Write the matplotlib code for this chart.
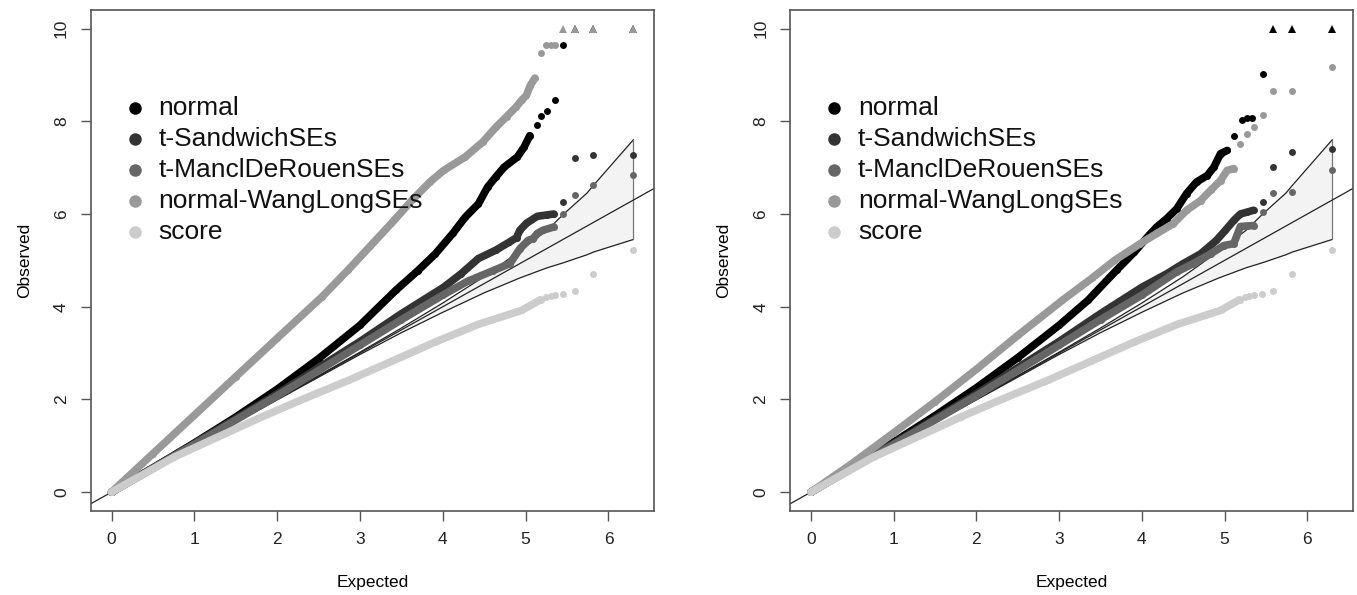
import numpy as np
import matplotlib
matplotlib.use('Agg')
import matplotlib.pyplot as plt

plt.rcParams['font.family'] = ['Liberation Sans', 'DejaVu Sans']

labels = ['normal', 't-SandwichSEs', 't-ManclDeRouenSEs', 'normal-WangLongSEs', 'score']
greys = ['#000000', '#333333', '#666666', '#999999', '#cccccc']
ymax = 10  # anything above this is drawn as a triangle on the top

# expected / observed -log10(p); np.inf = off the top of the scale
# n_dense = how many leading points are packed tight enough to draw as a band
left_normal_x = [0, 0.5, 1.0, 1.5, 2.0, 2.5, 3.0, 3.43, 3.70, 3.91, 4.12, 4.27, 4.43, 4.54, 4.64, 4.74, 4.90, 4.98, 5.05,
                 5.14, 5.19, 5.26, 5.35, 5.45, 5.59, 5.81, 6.30]
left_normal_y = [0, 0.52, 1.06, 1.62, 2.22, 2.88, 3.60, 4.35, 4.78, 5.14, 5.58, 5.93, 6.22, 6.58, 6.80, 7.01, 7.23, 7.44, 7.69,
                 7.91, 8.12, 8.23, 8.45, 9.65, np.inf, np.inf, np.inf]
left_sand_x = [0, 1.0, 2.0, 3.0, 3.5, 4.01, 4.22, 4.43, 4.64, 4.80, 4.89, 4.93, 5.01, 5.14, 5.26, 5.34,
               5.45, 5.59, 5.81, 6.30]
left_sand_y = [0, 1.05, 2.12, 3.25, 3.85, 4.42, 4.71, 5.04, 5.22, 5.39, 5.49, 5.65, 5.80, 5.95, 5.98, 6.00,
               6.26, 7.20, 7.28, 7.28]
left_mancl_x = [0, 1.0, 2.0, 3.0, 3.5, 4.0, 4.3, 4.61, 4.81, 4.93, 5.03, 5.09, 5.14, 5.21, 5.34,
                5.45, 5.59, 5.81, 6.30]
left_mancl_y = [0, 1.03, 2.08, 3.17, 3.72, 4.25, 4.55, 4.78, 4.93, 5.25, 5.43, 5.47, 5.58, 5.65, 5.72,
                6.00, 6.42, 6.63, 6.85]
left_wang_x = [0, 0.5, 1.0, 1.5, 2.0, 2.54, 2.86, 3.12, 3.38, 3.64, 3.85, 4.01, 4.27, 4.48, 4.64, 4.77, 4.88, 4.95, 5.01,
               5.05, 5.11, 5.18, 5.25, 5.30, 5.36, 5.45, 5.59, 5.81, 6.30]
left_wang_y = [0, 0.83, 1.66, 2.49, 3.32, 4.21, 4.80, 5.30, 5.80, 6.32, 6.70, 6.94, 7.23, 7.55, 7.87, 8.10, 8.30, 8.45, 8.56,
               8.75, 8.93, 9.47, 9.65, 9.65, 9.65, np.inf, np.inf, np.inf, np.inf]
left_score_x = [0, 0.76, 1.81, 2.33, 2.86, 3.38, 3.91, 4.43, 4.95, 5.18,
                5.25, 5.30, 5.36, 5.45, 5.59, 5.81, 6.30]
left_score_y = [0, 0.76, 1.62, 2.02, 2.41, 2.82, 3.24, 3.62, 3.92, 4.15,
                4.21, 4.23, 4.25, 4.27, 4.34, 4.71, 5.22]
left_n_dense = [19, 16, 15, 21, 10]

right_normal_x = [0, 0.5, 1.0, 1.5, 2.0, 2.5, 3.0, 3.35, 3.70, 3.91, 4.09, 4.18, 4.30, 4.42, 4.54, 4.66, 4.79, 4.87, 4.95,
                  5.03, 5.11, 5.21, 5.27, 5.33, 5.46, 5.58, 5.82, 6.30]
right_normal_y = [0, 0.53, 1.08, 1.65, 2.25, 2.90, 3.60, 4.14, 4.80, 5.18, 5.55, 5.72, 5.90, 6.11, 6.44, 6.69, 6.83, 7.01, 7.30,
                  7.37, 7.69, 8.02, 8.08, 8.08, 9.02, np.inf, np.inf, np.inf]
right_sand_x = [0, 1.0, 2.0, 3.0, 3.5, 4.0, 4.30, 4.50, 4.71, 4.90, 5.01, 5.11, 5.19, 5.27, 5.35,
                5.46, 5.59, 5.82, 6.30]
right_sand_y = [0, 1.05, 2.12, 3.25, 3.85, 4.42, 4.71, 4.93, 5.14, 5.43, 5.65, 5.86, 6.00, 6.04, 6.08,
                6.26, 7.01, 7.33, 7.41]
right_mancl_x = [0, 1.0, 2.0, 3.0, 3.5, 4.0, 4.42, 4.62, 4.83, 4.99, 5.11, 5.19, 5.27, 5.35,
                 5.46, 5.59, 5.82, 6.30]
right_mancl_y = [0, 1.03, 2.08, 3.17, 3.72, 4.25, 4.75, 4.93, 5.14, 5.32, 5.36, 5.73, 5.74, 5.75,
                 6.04, 6.46, 6.47, 6.95]
right_wang_x = [0, 0.5, 1.0, 1.5, 2.0, 2.5, 3.04, 3.40, 3.67, 3.98, 4.18, 4.38, 4.54, 4.71, 4.83, 4.95, 5.03, 5.11,
                5.19, 5.27, 5.35, 5.46, 5.58, 5.82, 6.30]
right_wang_y = [0, 0.62, 1.28, 1.95, 2.65, 3.38, 4.14, 4.62, 5.00, 5.36, 5.58, 5.79, 6.08, 6.29, 6.51, 6.72, 6.94, 6.98,
                7.51, 7.73, 7.87, 8.13, 8.66, 8.66, 9.17]
right_score_x = left_score_x
right_score_y = left_score_y
right_n_dense = [20, 15, 14, 18, 10]

# 90% band around the diagonal
band_x = [0, 1.0, 2.0, 3.0, 3.5, 4.0, 4.5, 4.93, 5.26, 5.46, 5.74, 5.82, 6.30]
band_hi = [0, 1.0, 2.01, 3.02, 3.54, 4.08, 4.65, 5.2, 5.65, 6.00, 6.45, 6.62, 7.60]
band_lo = [0, 1.0, 1.99, 2.97, 3.44, 3.88, 4.30, 4.62, 4.84, 4.95, 5.12, 5.18, 5.45]

xticks = [0, 1, 2, 3, 4, 5, 6]
yticks = [0, 2, 4, 6, 8, 10]


def qq_panel(ax, xs, ys, n_dense):
    ax.fill_between(band_x, band_lo, band_hi, color='#f3f3f3', lw=0, zorder=1)
    ax.plot(band_x, band_hi, color='#222222', lw=0.9, zorder=2)
    ax.plot(band_x, band_lo, color='#222222', lw=0.9, zorder=2)
    ax.plot([band_x[-1], band_x[-1]], [band_lo[-1], band_hi[-1]], color='#777777', lw=0.9, zorder=2)
    ax.axline((0, 0), slope=1, color='#222222', lw=0.9, zorder=2)

    for k, (x, y, nd) in enumerate(zip(xs, ys, n_dense)):
        x = np.asarray(x, float)
        y = np.asarray(y, float)
        z = 3 + k
        ax.plot(x[:nd], y[:nd], color=greys[k], lw=5.5, solid_capstyle='round', zorder=z)
        ok = y <= ymax
        ax.plot(x[ok], y[ok], 'o', color=greys[k], ms=5, mew=0, zorder=z)
        top = ~ok
        ax.plot(x[top], np.full(top.sum(), ymax), '^', color=greys[k], ms=6, mew=0, zorder=z)

    ax.set_xlim(-0.252, 6.552)
    ax.set_ylim(-0.4, 10.4)
    ax.set_xticks(xticks)
    ax.set_yticks(yticks)
    ax.tick_params(axis='both', length=7.5, width=1, color='#555555', labelsize=12.5, labelcolor='#222222')
    ax.tick_params(axis='x', pad=8)
    ax.tick_params(axis='y', pad=8, labelrotation=90)
    for lab in ax.get_yticklabels():
        lab.set_va('center')
    for s in ax.spines.values():
        s.set_color('#555555')
        s.set_linewidth(1.2)
    ax.set_xlabel('Expected', fontsize=12.5, labelpad=20)
    ax.set_ylabel('Observed', fontsize=12.5, labelpad=16)

    for k, lab in enumerate(labels):
        yy = 0.805 - 0.062 * k
        ax.plot(0.0782, yy, 'o', color=greys[k], ms=9, mew=0, transform=ax.transAxes, zorder=10)
        ax.text(0.1207, yy, lab, fontsize=19, va='center', ha='left', color='#111111',
                transform=ax.transAxes, zorder=10)


fig = plt.figure(figsize=(13.57, 5.95), dpi=100)
ax1 = fig.add_axes([0.0668, 0.1417, 0.4153, 0.8415])
ax2 = fig.add_axes([0.5822, 0.1417, 0.4149, 0.8415])

qq_panel(ax1, [left_normal_x, left_sand_x, left_mancl_x, left_wang_x, left_score_x],
         [left_normal_y, left_sand_y, left_mancl_y, left_wang_y, left_score_y], left_n_dense)
qq_panel(ax2, [right_normal_x, right_sand_x, right_mancl_x, right_wang_x, right_score_x],
         [right_normal_y, right_sand_y, right_mancl_y, right_wang_y, right_score_y], right_n_dense)

fig.savefig('out.png', dpi=100)
